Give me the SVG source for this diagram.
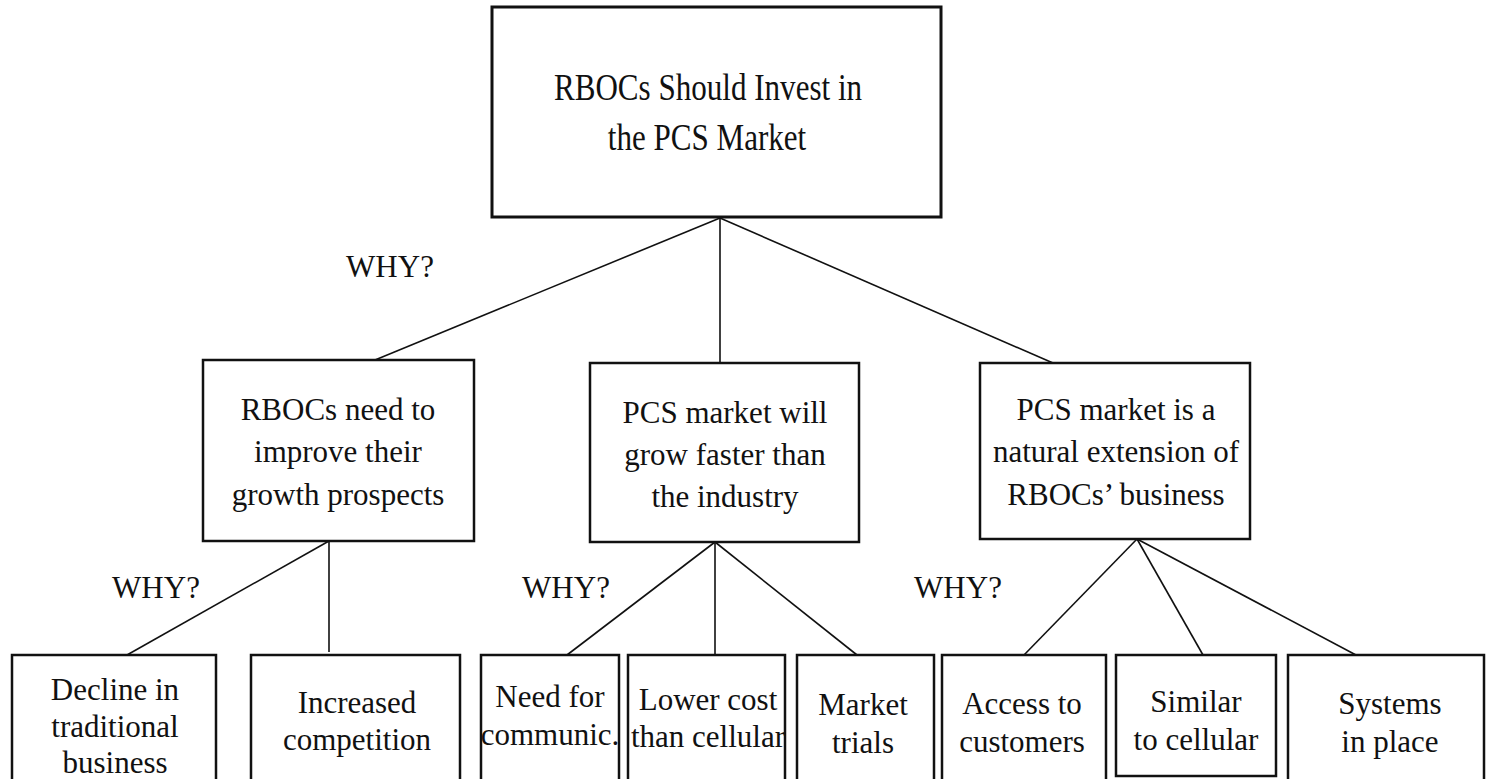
<svg xmlns="http://www.w3.org/2000/svg" width="1486" height="779" viewBox="0 0 1486 779">
<style>
.box{fill:#fff;stroke:#111;stroke-width:2.5}
.t{font-family:"Liberation Serif","Times New Roman",serif;fill:#111;text-anchor:middle;font-size:31px}
.c{stroke:#111;stroke-width:1.6;fill:none}
</style>
<rect width="1486" height="779" fill="#fff"/>
<g id="connectors">
<line class="c" x1="720" y1="218" x2="375" y2="360"/>
<line class="c" x1="720" y1="218" x2="720" y2="363"/>
<line class="c" x1="720" y1="218" x2="1053" y2="363"/>
<line class="c" x1="329" y1="541" x2="127" y2="655"/>
<line class="c" x1="329" y1="541" x2="329" y2="652"/>
<line class="c" x1="715" y1="542" x2="567" y2="655"/>
<line class="c" x1="715" y1="542" x2="715" y2="655"/>
<line class="c" x1="715" y1="542" x2="857" y2="655"/>
<line class="c" x1="1137" y1="539" x2="1024" y2="655"/>
<line class="c" x1="1137" y1="539" x2="1203" y2="655"/>
<line class="c" x1="1137" y1="539" x2="1356" y2="655"/>
</g>
<g id="why-labels">
<text class="t" x="390" y="277">WHY?</text>
<text class="t" x="156" y="598">WHY?</text>
<text class="t" x="566" y="598">WHY?</text>
<text class="t" x="958" y="598">WHY?</text>
</g>
<g id="root">
<rect class="box" x="492" y="7" width="449" height="210" style="stroke-width:3"/>
<text class="t" font-size="37" style="font-size:37px" transform="translate(708,100) scale(0.84,1)">RBOCs Should Invest in</text>
<text class="t" style="font-size:37px" transform="translate(707,150) scale(0.84,1)">the PCS Market</text>
</g>
<g id="growth">
<rect class="box" x="203" y="360" width="271" height="181"/>
<text class="t" x="338" y="420">RBOCs need to</text>
<text class="t" x="338" y="462">improve their</text>
<text class="t" x="338" y="505">growth prospects</text>
</g>
<g id="faster">
<rect class="box" x="590" y="363" width="269" height="179"/>
<text class="t" x="725" y="423">PCS market will</text>
<text class="t" x="725" y="465">grow faster than</text>
<text class="t" x="725" y="507">the industry</text>
</g>
<g id="extension">
<rect class="box" x="980" y="363" width="270" height="176"/>
<text class="t" x="1116" y="420">PCS market is a</text>
<text class="t" x="1116" y="462">natural extension of</text>
<text class="t" x="1116" y="505">RBOCs’ business</text>
</g>
<g id="decline">
<rect class="box" x="12" y="655" width="204" height="140"/>
<text class="t" x="115" y="700">Decline in</text>
<text class="t" x="115" y="737">traditional</text>
<text class="t" x="115" y="773">business</text>
</g>
<g id="competition">
<rect class="box" x="251" y="655" width="209" height="140"/>
<text class="t" x="357" y="713">Increased</text>
<text class="t" x="357" y="750">competition</text>
</g>
<g id="need">
<rect class="box" x="481" y="655" width="138" height="140"/>
<text class="t" x="550" y="707">Need for</text>
<text class="t" x="550" y="745">communic.</text>
</g>
<g id="lower-cost">
<rect class="box" x="628" y="655" width="157" height="140"/>
<text class="t" x="708" y="710">Lower cost</text>
<text class="t" x="708" y="747">than cellular</text>
</g>
<g id="trials">
<rect class="box" x="797" y="655" width="137" height="140"/>
<text class="t" x="863" y="715">Market</text>
<text class="t" x="863" y="753">trials</text>
</g>
<g id="access">
<rect class="box" x="942" y="655" width="164" height="140"/>
<text class="t" x="1022" y="714">Access to</text>
<text class="t" x="1022" y="752">customers</text>
</g>
<g id="similar">
<rect class="box" x="1116" y="655" width="160" height="121"/>
<text class="t" x="1196" y="712">Similar</text>
<text class="t" x="1196" y="750">to cellular</text>
</g>
<g id="systems">
<rect class="box" x="1288" y="655" width="196" height="140"/>
<text class="t" x="1390" y="714">Systems</text>
<text class="t" x="1390" y="752">in place</text>
</g>
</svg>
